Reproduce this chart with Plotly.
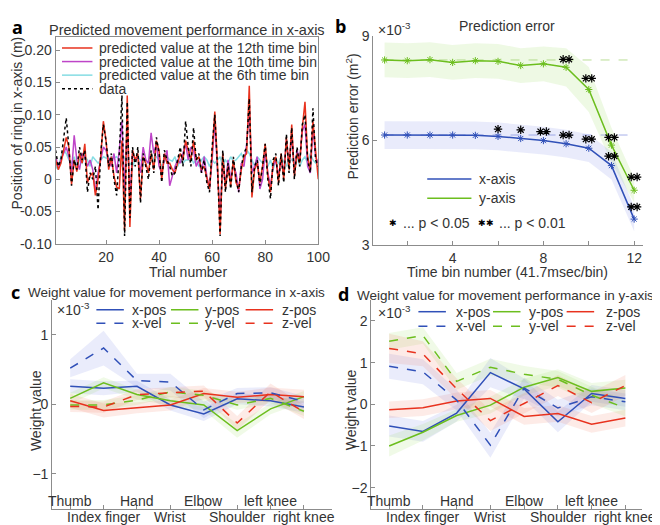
import plotly.graph_objects as go

W, H = 660, 525

# ---- panel a: predicted vs. measured ring position ----
trials = list(range(1, 101))
data_x = [0.045, 0.02, 0.03, 0.06, 0.095, 0.05, -0.01, 0.03, 0.015, 0.05,
          0.03, 0.045, -0.02, 0.01, 0.0, 0.02, -0.047, 0.04, 0.085, 0.06,
          0.02, 0.04, 0.0, -0.025, 0.04, 0.13, -0.088, 0.12, -0.06, 0.05,
          0.02, 0.05, -0.037, 0.04, 0.02, 0.0, 0.045, 0.01, 0.065, 0.04,
          -0.005, 0.045, 0.03, 0.02, 0.005, 0.01, 0.03, 0.05, 0.02, 0.09,
          0.05, 0.02, 0.08, 0.03, 0.04, 0.01, 0.03, -0.005, -0.02, 0.05,
          0.1, 0.02, -0.088, 0.045, -0.02, 0.025, -0.015, 0.035, 0.0, -0.02,
          0.02, 0.04, 0.05, 0.125, -0.02, 0.02, 0.03, -0.01, 0.02, 0.055,
          0.0, -0.03, 0.03, 0.04, -0.01, 0.04, -0.005, 0.07, 0.01, 0.08,
          0.0, 0.05, 0.02, 0.085, 0.1, 0.03, 0.01, 0.11, 0.03, 0.02]
pred_12 = [0.03, 0.015, 0.025, 0.045, 0.065, 0.05, -0.008, 0.03, 0.012, 0.04,
           0.025, 0.055, -0.005, 0.005, 0.01, -0.025, 0.0, 0.035, 0.09, 0.06,
           0.015, 0.035, 0.005, -0.012, -0.015, 0.06, -0.08, 0.13, -0.074, 0.045,
           0.03, 0.04, -0.03, 0.035, 0.025, 0.01, 0.04, 0.015, 0.06, 0.045,
           0.0, 0.04, 0.025, 0.025, 0.015, 0.01, 0.025, 0.04, 0.03, 0.06,
           0.045, 0.03, 0.06, 0.03, 0.035, 0.015, 0.02, 0.0, -0.015, 0.04,
           0.105, 0.025, -0.085, 0.04, -0.015, 0.02, -0.01, 0.03, -0.005, -0.015,
           0.015, 0.035, 0.04, 0.145, -0.028, 0.015, 0.025, -0.005, 0.02, 0.055,
           0.005, -0.02, 0.025, 0.035, -0.005, 0.04, 0.0, 0.065, 0.015, 0.085,
           0.005, 0.04, 0.025, 0.08, 0.12, 0.035, 0.015, 0.09, 0.04, 0.0]
pred_10 = [0.035, 0.02, 0.03, 0.04, 0.05, 0.035, 0.01, 0.068, 0.03, 0.015,
           0.04, 0.035, 0.02, 0.03, 0.015, -0.02, 0.01, 0.03, 0.05, 0.045,
           0.03, 0.02, 0.04, 0.01, 0.045, 0.09, -0.02, 0.085, -0.03, 0.04,
           0.03, 0.035, 0.01, 0.05, 0.03, 0.025, 0.072, 0.04, 0.055, 0.02,
           0.01, 0.03, 0.045, -0.01, 0.005, 0.02, 0.03, 0.025, 0.04, 0.055,
           0.03, 0.05, 0.045, 0.02, 0.03, 0.01, 0.035, 0.005, -0.015, 0.03,
           0.09, 0.02, -0.06, 0.03, -0.01, 0.03, 0.0, 0.02, 0.01, -0.02,
           0.025, 0.02, 0.055, 0.11, 0.01, 0.02, 0.035, -0.015, 0.0, 0.045,
           0.01, -0.01, 0.02, 0.03, 0.005, 0.03, 0.01, 0.06, 0.02, 0.07,
           0.01, 0.045, 0.03, 0.075, 0.085, 0.02, 0.01, 0.08, 0.035, 0.025]
pred_6 = [0.02, 0.015, 0.035, 0.045, 0.04, 0.03, 0.025, 0.035, 0.02, 0.03,
          0.025, 0.035, 0.03, 0.02, 0.035, 0.03, 0.025, 0.03, 0.035, 0.033,
          0.03, 0.035, 0.033, 0.035, 0.03, 0.02, 0.035, 0.03, 0.025, 0.02,
          0.03, 0.033, 0.03, 0.025, 0.03, 0.025, 0.04, 0.03, 0.035, 0.03,
          0.02, 0.028, 0.035, 0.03, 0.028, 0.035, 0.02, 0.03, 0.025, 0.03,
          0.03, 0.035, 0.025, 0.03, 0.02, 0.03, 0.035, 0.03, 0.02, 0.03,
          0.025, 0.03, 0.035, 0.02, 0.03, 0.025, 0.035, 0.028, 0.03, 0.035,
          0.04, 0.03, 0.045, 0.04, 0.03, 0.02, 0.035, 0.03, 0.025, 0.035,
          0.02, 0.03, 0.015, 0.03, 0.025, 0.035, 0.028, 0.02, 0.035, 0.03,
          0.025, 0.035, 0.02, 0.03, 0.035, 0.025, 0.04, 0.03, 0.025, 0.03]

# ---- panel b: prediction error (x1e-3 m^2) ----
time_bins = list(range(1, 13))
err_x = [6.16, 6.16, 6.16, 6.16, 6.15, 6.12, 6.06, 6.0, 5.91, 5.78, 5.28, 3.74]
err_x_sd = [0.4, 0.4, 0.4, 0.4, 0.4, 0.4, 0.4, 0.4, 0.4, 0.4, 0.4, 0.35]
err_y = [8.32, 8.30, 8.33, 8.25, 8.30, 8.28, 8.16, 8.21, 8.11, 7.47, 5.87, 4.57]
err_y_sd = [0.5, 0.5, 0.5, 0.5, 0.5, 0.5, 0.5, 0.5, 0.55, 0.65, 0.5, 0.35]
sig05_bins = [6, 7]
sig05_vals = [6.33, 6.31]
sig01_bins = [8, 9, 9, 10, 10, 11, 11, 12, 12]
sig01_vals = [6.26, 6.16, 8.34, 6.04, 7.79, 6.09, 5.55, 4.09, 4.95]

# ---- panels c, d: weight values (x1e-3) ----
joints = ['Thumb', 'Index finger', 'Hand', 'Wrist', 'Elbow', 'Shoulder', 'left knee', 'right knee']

c_xpos = [0.26, 0.23, 0.26, -0.01, -0.14, 0.08, 0.05, -0.04]
c_xvel = [0.52, 0.81, 0.34, 0.32, -0.08, 0.155, 0.165, 0.04]
c_ypos = [0.085, 0.31, 0.14, 0.05, -0.01, -0.38, -0.065, 0.11]
c_yvel = [-0.01, -0.01, 0.06, 0.18, 0.13, -0.01, 0.085, -0.1]
c_zpos = [0.05, -0.09, -0.05, -0.01, 0.155, 0.1, 0.14, 0.11]
c_zvel = [-0.03, -0.04, 0.14, 0.165, 0.19, -0.27, 0.18, -0.11]
c_xpos_sd = [0.1, 0.1, 0.08, 0.08, 0.1, 0.08, 0.08, 0.08]
c_xvel_sd = [0.13, 0.25, 0.1, 0.12, 0.12, 0.08, 0.08, 0.08]
c_ypos_sd = [0.08, 0.08, 0.07, 0.07, 0.08, 0.1, 0.08, 0.08]
c_yvel_sd = [0.07, 0.07, 0.07, 0.07, 0.07, 0.07, 0.07, 0.07]
c_zpos_sd = [0.1, 0.1, 0.08, 0.08, 0.08, 0.08, 0.1, 0.1]
c_zvel_sd = [0.08, 0.08, 0.08, 0.08, 0.08, 0.1, 0.12, 0.1]

d_xpos = [-0.52, -0.65, -0.21, 0.76, 0.37, -0.42, 0.26, 0.14]
d_xvel = [0.91, 0.78, 0.1, -0.98, 0.39, -0.09, 0.18, 0.06]
d_ypos = [-1.0, -0.67, -0.27, -0.02, 0.41, 0.64, 0.31, 0.39]
d_yvel = [1.51, 1.65, 0.55, 0.89, 0.72, 0.6, 0.22, -0.09]
d_zpos = [-0.13, -0.08, 0.08, 0.14, -0.29, -0.22, -0.48, -0.33]
d_zvel = [1.34, 1.21, 0.37, -0.39, 0.02, 0.45, 0.04, 0.45]
d_xpos_sd = [0.25, 0.25, 0.2, 0.35, 0.25, 0.25, 0.2, 0.2]
d_xvel_sd = [0.3, 0.3, 0.25, 0.3, 0.25, 0.2, 0.2, 0.2]
d_ypos_sd = [0.25, 0.2, 0.15, 0.2, 0.2, 0.2, 0.2, 0.2]
d_yvel_sd = [0.2, 0.2, 0.2, 0.2, 0.2, 0.2, 0.2, 0.2]
d_zpos_sd = [0.2, 0.2, 0.2, 0.2, 0.2, 0.2, 0.2, 0.2]
d_zvel_sd = [0.35, 0.3, 0.25, 0.25, 0.25, 0.25, 0.25, 0.25]

BLUE = '#3050B8'
GREEN = '#6CBE1E'
RED = '#E8321E'
MAGENTA = '#BE45C8'
CYAN = '#86DDE3'
FONT = 'Liberation Sans'
TXT = '#333333'
AX = '#8c8c8c'
FS = 14


def px(x):
    return x / W


def py(y):
    return 1 - y / H


def band(fig, xs, mean, sd, fill, xa, ya):
    up = [m + s for m, s in zip(mean, sd)]
    lo = [m - s for m, s in zip(mean, sd)]
    fig.add_trace(go.Scatter(x=list(xs) + list(xs)[::-1], y=up + lo[::-1], fill='toself',
                             fillcolor=fill, line=dict(width=0), mode='lines',
                             hoverinfo='skip', showlegend=False, xaxis=xa, yaxis=ya))


fig = go.Figure()

# panel a
for vals, col, dash in [(pred_6, CYAN, 'solid'), (pred_10, MAGENTA, 'solid'),
                        (pred_12, RED, 'solid'), (data_x, 'black', 'dot')]:
    fig.add_trace(go.Scatter(x=trials, y=vals, mode='lines', line=dict(color=col, width=1.5, dash=dash),
                             showlegend=False, xaxis='x', yaxis='y'))

# panel b
band(fig, time_bins, err_y, err_y_sd, 'rgba(150,215,90,0.16)', 'x2', 'y2')
band(fig, time_bins, err_x, err_x_sd, 'rgba(110,120,225,0.15)', 'x2', 'y2')
fig.add_trace(go.Scatter(x=[time_bins[0], time_bins[-1]], y=[err_y[0]] * 2, mode='lines',
                         line=dict(color='rgba(140,200,80,0.6)', width=1, dash='dash'),
                         showlegend=False, xaxis='x2', yaxis='y2'))
fig.add_trace(go.Scatter(x=[time_bins[0], time_bins[-1]], y=[err_x[0]] * 2, mode='lines',
                         line=dict(color='rgba(110,125,220,0.6)', width=1, dash='dash'),
                         showlegend=False, xaxis='x2', yaxis='y2'))
for vals, col in [(err_x, BLUE), (err_y, GREEN)]:
    fig.add_trace(go.Scatter(x=time_bins, y=vals, mode='lines+markers',
                             line=dict(color=col, width=1.5),
                             marker=dict(symbol='asterisk-open', size=6, color=col,
                                         line=dict(color=col, width=1)),
                             showlegend=False, xaxis='x2', yaxis='y2'))
star = dict(symbol='asterisk-open', size=7, color='black', line=dict(color='black', width=1.2))
fig.add_trace(go.Scatter(x=sig05_bins, y=sig05_vals, mode='markers', marker=star,
                         showlegend=False, xaxis='x2', yaxis='y2'))
for off in (-0.13, 0.13):
    fig.add_trace(go.Scatter(x=[b + off for b in sig01_bins], y=sig01_vals, mode='markers', marker=star,
                             showlegend=False, xaxis='x2', yaxis='y2'))

# panels c, d
xs = list(range(1, len(joints) + 1))
series_names = ['x-pos', 'y-pos', 'z-pos', 'x-vel', 'y-vel', 'z-vel']
series_cols = [BLUE, GREEN, RED, BLUE, GREEN, RED]
series_fill = ['rgba(80,100,220,0.12)', 'rgba(130,210,60,0.12)', 'rgba(240,90,60,0.12)'] * 2
panel_c = [(c_xpos, c_xpos_sd), (c_ypos, c_ypos_sd), (c_zpos, c_zpos_sd),
           (c_xvel, c_xvel_sd), (c_yvel, c_yvel_sd), (c_zvel, c_zvel_sd)]
panel_d = [(d_xpos, d_xpos_sd), (d_ypos, d_ypos_sd), (d_zpos, d_zpos_sd),
           (d_xvel, d_xvel_sd), (d_yvel, d_yvel_sd), (d_zvel, d_zvel_sd)]
for panel, xa, ya in [(panel_c, 'x3', 'y3'), (panel_d, 'x4', 'y4')]:
    for (m, s), fc in zip(panel, series_fill):
        band(fig, xs, m, s, fc, xa, ya)
    for i, ((m, s), col) in enumerate(zip(panel, series_cols)):
        fig.add_trace(go.Scatter(x=xs, y=m, mode='lines',
                                 line=dict(color=col, width=1.5, dash='solid' if i < 3 else 'dash'),
                                 showlegend=False, xaxis=xa, yaxis=ya))

axis_common = dict(showgrid=False, zeroline=False, showline=True, linecolor=AX, linewidth=1,
                   ticks='inside', ticklen=4, tickcolor=AX,
                   tickfont=dict(family=FONT, size=FS, color=TXT))

fig.update_layout(
    width=W, height=H, margin=dict(l=0, r=0, t=0, b=0),
    paper_bgcolor='white', plot_bgcolor='white', showlegend=False,
    xaxis=dict(axis_common, domain=[px(48.5), px(316)], range=[1, 100], tickvals=[20, 40, 60, 80, 100],
               mirror=True, anchor='y'),
    yaxis=dict(axis_common, domain=[py(235), py(22)], range=[-0.1, 0.22],
               tickvals=[-0.1, -0.05, 0, 0.05, 0.1, 0.15, 0.2],
               ticktext=['-0.10', '-0.05', '0', '0.05', '0.10', '0.15', '0.20'], mirror=True, anchor='x'),
    xaxis2=dict(axis_common, domain=[px(372), px(647)], range=[0.5, 12.4], tickvals=[4, 8, 12],
                minor=dict(tickvals=[2, 6, 10], ticks='inside', ticklen=4, tickcolor=AX), anchor='y2'),
    yaxis2=dict(axis_common, domain=[py(236), py(21)], range=[3, 9], tickvals=[3, 6, 9], anchor='x2'),
    xaxis3=dict(axis_common, domain=[px(45), px(330)], range=[0.46, 8.84], tickvals=xs,
                showticklabels=False, anchor='y3'),
    yaxis3=dict(axis_common, domain=[py(508), py(293)], range=[-1.5, 1.5], tickvals=[-1, 0, 1], anchor='x3'),
    xaxis4=dict(axis_common, domain=[px(370), px(646)], range=[0.47, 8.5], tickvals=xs,
                showticklabels=False, anchor='y4'),
    yaxis4=dict(axis_common, domain=[py(508), py(293)], range=[-2.5, 2.5], tickvals=[-2, -1, 0, 1, 2],
                anchor='x4'),
)

ann = []
shapes = []


def text(x, y, s, size=FS, xanchor='left', angle=0, bold=False, family=FONT, color=TXT):
    ann.append(dict(x=px(x), y=py(y), xref='paper', yref='paper', text=s, showarrow=False,
                    xanchor=xanchor, yanchor='middle', textangle=angle,
                    font=dict(family=family, size=size, color=color,
                              weight='bold' if bold else 'normal')))


def legline(x0, x1, y, col, dash='solid', width=1.5):
    shapes.append(dict(type='line', xref='paper', yref='paper', x0=px(x0), x1=px(x1), y0=py(y), y1=py(y),
                       line=dict(color=col, width=width, dash=dash)))


# panel letters and titles
for letter, x, y in [('a', 10, 11), ('b', 339, 10), ('c', 8, 285), ('d', 342, 287)]:
    text(x, y, letter, size=18, xanchor='center', bold=True, family='Open Sans', color='black')
text(182, 14, 'Predicted movement performance in x-axis', size=14.5, xanchor='center')
text(508, 10, 'Prediction error', xanchor='center')
text(18, 285, 'Weight value for movement performance in x-axis', size=13.5)
text(353, 288, 'Weight value for movement performance in y-axis', size=13.5)

# axis titles
text(183, 264, 'Trial number', xanchor='center')
text(509, 264, 'Time bin number (41.7msec/bin)', xanchor='center')
text(9, 110, 'Position of ring in x-axis (m)', xanchor='center', angle=-90)
text(350, 104, 'Prediction error (m<sup>2</sup>)', xanchor='center', angle=-90)
text(28, 407, 'Weight value', xanchor='center', angle=-90)
text(349, 406, 'Weight value', xanchor='center', angle=-90)
text(375, 13, '×10<sup>-3</sup>')
text(48, 302, '×10<sup>-3</sup>')
text(375, 305, '×10<sup>-3</sup>')

# panel a legend
for name, col, dash, y in [('predicted value at the 12th time bin', RED, 'solid', 33),
                           ('predicted value at the 10th time bin', MAGENTA, 'solid', 47),
                           ('predicted value at the 6th time bin', CYAN, 'solid', 61),
                           ('data', 'black', 'dot', 75)]:
    legline(55, 86, y, col, dash)
    text(91, y, name)

# panel b legend
legline(427, 472, 168, BLUE)
text(478, 168, 'x-axis')
legline(427, 472, 188, GREEN)
text(478, 188, 'y-axis')
text(392, 213, '✱', size=9, xanchor='center', color='black')
text(400, 213, '... p < 0.05')
text(487, 213, '✱✱', size=9, xanchor='center', color='black')
text(498, 213, '... p < 0.01')

# panel c, d legends
for x0s, tx, y1, y2 in [([90, 166, 242], [124, 199, 277], 303, 317),
                        ([418, 494, 569], [454, 529, 607], 305, 320)]:
    for i, name in enumerate(series_names):
        col = series_cols[i]
        y = y1 if i < 3 else y2
        legline(x0s[i % 3], x0s[i % 3] + 28, y, col, 'solid' if i < 3 else 'dash')
        text(tx[i % 3], y, name)

# staggered joint labels
for xa in ['x3', 'x4']:
    for i, name in enumerate(joints):
        ann.append(dict(x=xs[i], y=py(500 if i % 2 == 0 else 517), xref=xa, yref='paper', text=name,
                        showarrow=False, xanchor='center', yanchor='middle',
                        font=dict(family=FONT, size=FS, color=TXT)))

fig.update_layout(annotations=ann, shapes=shapes)
fig.write_html("out.html")
